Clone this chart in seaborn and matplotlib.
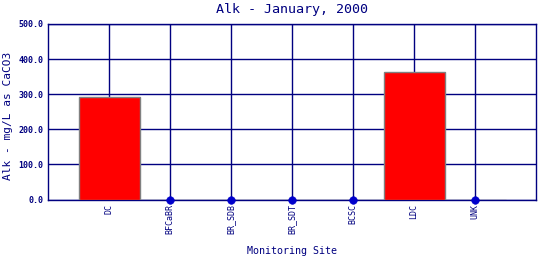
import matplotlib
matplotlib.use("Agg")
import matplotlib.pyplot as plt
import seaborn as sns
import pandas as pd

sites = ["DC", "BFCaBR", "BR_SDB", "BR_SDT", "BCSC", "LDC", "UNK"]
alk = [293.0, 0.0, 0.0, 0.0, 0.0, 363.0, 0.0]
yticks = [0, 100, 200, 300, 400, 500]

sns.set_style("white")
plt.rcParams['font.family'] = ['DejaVu Sans Mono']
navy = "#000080"

df = pd.DataFrame({"site": sites, "alk": alk})
zeros = df[df["alk"] == 0]

fig = plt.figure(figsize=(5.4, 2.6), dpi=100)
ax = fig.add_axes([48/540, (260-199.5)/260, (536-48)/540, (199.5-24)/260])

sns.barplot(data=df, x="site", y="alk", order=sites, color="#ff0000",
            width=1.0, edgecolor="#808080", linewidth=1.0, saturation=1,
            ax=ax, zorder=3)
sns.scatterplot(x=[sites.index(s) for s in zeros["site"]], y=zeros["alk"],
                color="#0000cc", s=30, edgecolor="#0000cc", ax=ax, zorder=5,
                clip_on=False)

ax.set_xlim(-1, 7)
ax.set_ylim(0, 500)
ax.set_yticks(yticks)
ax.set_yticklabels([f"{v:.1f}" for v in yticks], fontsize=6, color=navy,
                   fontweight="bold")
ax.set_xticks(range(len(sites)))
ax.set_xticklabels(sites, rotation=90, fontsize=6, color=navy)
ax.grid(True, color=navy, linewidth=1.0, zorder=0)
ax.set_axisbelow(True)
for sp in ax.spines.values():
    sp.set_color(navy)
    sp.set_linewidth(1.0)
ax.tick_params(axis="x", length=0, pad=3)
ax.tick_params(axis="y", length=2.5, width=1.0, color=navy, pad=1)
ax.set_xlabel("Monitoring Site", color=navy, fontsize=7.2, labelpad=9)
ax.set_ylabel("Alk - mg/L as CaCO3", color=navy, fontsize=8, labelpad=6)
ax.yaxis.set_label_coords(-0.071, 0.477)
ax.set_title("Alk - January, 2000", color=navy, fontsize=9.6, pad=8)

fig.savefig("out.png", dpi=100)
